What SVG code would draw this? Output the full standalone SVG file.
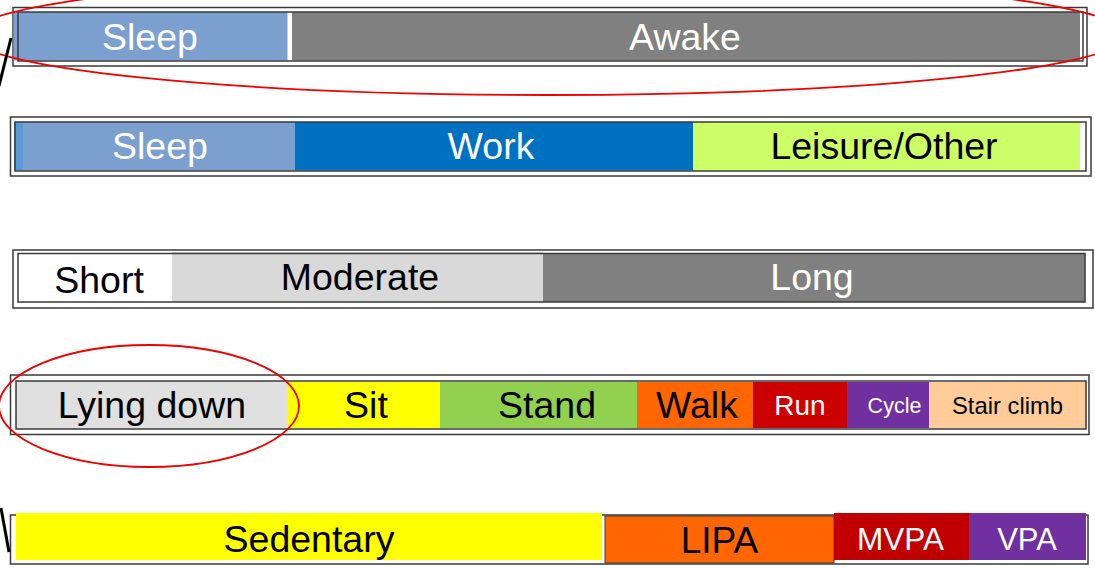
<svg xmlns="http://www.w3.org/2000/svg" width="1095" height="569" viewBox="0 0 1095 569">
<style>
.frame{fill:none;stroke:#3a3a3a;stroke-width:1.5}
.inner{fill:none;stroke:#3a3a3a;stroke-width:1.5}
.t{font-family:"Liberation Sans",Arial,sans-serif;text-anchor:middle}
.big{font-size:37.5px}
.w{fill:#ffffff}
.k{fill:#000000}
.ring{fill:none;stroke:#ee0000;stroke-width:1.8}
.tick{stroke:#000;stroke-width:3;fill:none}
</style>
<rect width="1095" height="569" fill="#ffffff"/>

<!-- Bar 1 -->
<g id="bar1">
<rect class="frame" x="13" y="7.5" width="1074" height="58.5"/>
<g id="sleep1"><rect x="13.5" y="12" width="274" height="48.5" fill="#7B9FCF"/><text class="t big w" x="150" y="50">Sleep</text></g>
<g id="awake"><rect x="292" y="12" width="788" height="48.5" fill="#808080"/><text class="t big w" x="685" y="50">Awake</text></g>
<rect class="inner" x="18" y="12" width="1065" height="49"/>
</g>

<!-- Bar 2 -->
<g id="bar2">
<rect class="frame" x="10.5" y="117" width="1080.5" height="59"/>
<g id="sleep2"><rect x="14" y="122" width="10" height="48.5" fill="#5B9BD5"/><rect x="23" y="122" width="272" height="48.5" fill="#7B9FCF"/><text class="t big w" x="160" y="159">Sleep</text></g>
<g id="work"><rect x="295" y="122" width="398" height="48.5" fill="#0070C0"/><text class="t big w" x="491" y="159">Work</text></g>
<g id="leisure"><rect x="693" y="122" width="387" height="48.5" fill="#CCFF66"/><text class="t big k" x="884" y="159">Leisure/Other</text></g>
<rect class="inner" x="15" y="122" width="1071" height="49"/>
</g>

<!-- Bar 3 -->
<g id="bar3">
<rect class="frame" x="13" y="250" width="1080" height="58"/>
<g id="short"><rect x="18" y="254" width="154" height="48" fill="#ffffff"/><text class="t big k" x="99" y="293">Short</text></g>
<g id="moderate"><rect x="172" y="252" width="371" height="50" fill="#D9D9D9"/><text class="t big k" x="360" y="290">Moderate</text></g>
<g id="long"><rect x="543" y="254" width="542" height="48" fill="#808080"/><text class="t big w" x="812" y="290">Long</text></g>
<rect class="inner" x="18" y="253.5" width="1067" height="48.5"/>
</g>

<!-- Bar 4 -->
<g id="bar4">
<rect class="frame" x="10.5" y="375" width="1078.5" height="59.5"/>
<g id="lying"><rect x="16" y="381" width="271" height="48" fill="#E0E0E0"/><text class="t big k" x="152" y="418">Lying down</text></g>
<g id="sit"><rect x="287" y="382" width="153" height="46" fill="#FFFF00"/><text class="t big k" x="366" y="418">Sit</text></g>
<g id="stand"><rect x="440" y="382" width="197" height="46" fill="#92D050"/><text class="t big k" x="547" y="418">Stand</text></g>
<g id="walk"><rect x="637" y="382" width="116" height="46" fill="#FF6600"/><text class="t big k" x="697" y="418">Walk</text></g>
<g id="run"><rect x="753" y="382" width="94" height="46" fill="#CC0000"/><text class="t w" x="800" y="415" font-size="28">Run</text></g>
<g id="cycle"><rect x="847" y="382" width="82" height="46" fill="#7030A0"/><text class="t w" x="894.5" y="413" font-size="21.5">Cycle</text></g>
<g id="stair"><rect x="929" y="382" width="157" height="46" fill="#FFCC99"/><text class="t k" x="1007.5" y="414" font-size="23.8">Stair climb</text></g>
<rect class="inner" x="16" y="381" width="1070" height="48"/>
</g>

<!-- Bar 5 -->
<g id="bar5">
<rect class="frame" x="10.5" y="515" width="1077.5" height="49"/>
<g id="sedentary"><rect x="16" y="513" width="586" height="47" fill="#FFFF00"/><text class="t big k" x="309" y="552">Sedentary</text></g>
<g id="lipa"><rect x="605" y="516" width="229" height="47" fill="#FF6600" stroke="#3a3a3a" stroke-width="1"/><text class="t k" x="719.5" y="553" font-size="37">LIPA</text></g>
<g id="mvpa"><rect x="834" y="513" width="135" height="47" fill="#C00000"/><text class="t w" x="900.5" y="550" font-size="31.5">MVPA</text></g>
<g id="vpa"><rect x="969" y="513" width="117" height="47" fill="#7030A0"/><text class="t w" x="1027" y="550" font-size="31">VPA</text></g>
</g>

<!-- highlight ellipses -->
<g id="highlights">
<ellipse class="ring" cx="548" cy="35" rx="578" ry="60"/>
<ellipse class="ring" cx="149" cy="406" rx="150" ry="61"/>
</g>

<!-- partial connectors at left edge -->
<g id="connectors">
<line class="tick" x1="11" y1="38" x2="-1" y2="86"/>
<line class="tick" x1="1" y1="508" x2="9" y2="552"/>
</g>
</svg>
